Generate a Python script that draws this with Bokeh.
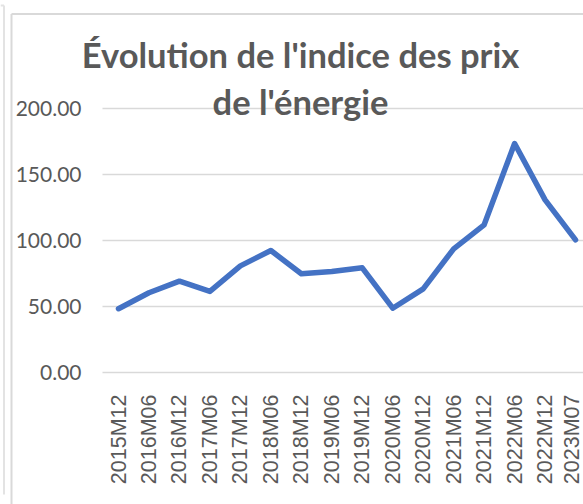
import math
from bokeh.plotting import figure
from bokeh.models import (Range1d, FixedTicker, PrintfTickFormatter, Label,
                          ColumnDataSource, Grid)
from bokeh.embed import file_html
from bokeh.resources import INLINE

# ---- data ----
categories = ["2015M12", "2016M06", "2016M12", "2017M06", "2017M12", "2018M06",
              "2018M12", "2019M06", "2019M12", "2020M06", "2020M12", "2021M06",
              "2021M12", "2022M06", "2022M12", "2023M07"]
values = [48.3, 60.4, 69.2, 61.4, 80.8, 92.4, 74.8, 76.5, 79.3, 48.7, 63.4,
          93.7, 111.9, 173.5, 130.8, 100.5]
y_ticks = [0, 50, 100, 150, 200]
title_lines = ["Évolution de l'indice des prix", "de l'énergie"]

FONT = "Lato"
XFONT = "Liberation Sans"
GREY = "#595959"
GRID = "#d9d9d9"
BLUE = "#4472C4"

W, H = 583, 504
# layout of the original chart (pixels): first category centre, category
# step, baseline (0) position and pixels per unit
X0, DX, Y0, DY = 118.0, 30.47, 372.0, 1.32


def px_x(px):
    return (px - X0) / DX


def px_y(py):
    return (Y0 - py) / DY


idx = list(range(len(categories)))
src = ColumnDataSource(dict(x=idx, y=values))

# frame covers the whole canvas; axes use negative standoffs so their labels
# sit inside it, as in the original (title overlaps the plot area)
p = figure(width=W, height=H, output_backend="svg", toolbar_location=None,
           x_range=Range1d(px_x(0), px_x(W)), y_range=Range1d(px_y(H), px_y(0)),
           min_border_left=0, min_border_right=0, min_border_top=0,
           min_border_bottom=0)
p.outline_line_color = None
p.background_fill_color = "white"
p.border_fill_color = "white"

# chart borders
p.segment(x0=[px_x(3.5), px_x(0)], y0=[px_y(5), px_y(5)],
          x1=[px_x(3.5), px_x(3.5)], y1=[px_y(494), px_y(5)],
          line_color="#e3e3e3", line_width=2)
p.segment(x0=[px_x(11), px_x(11)], y0=[px_y(13.5), px_y(13.5)],
          x1=[px_x(11), px_x(W + 20)], y1=[px_y(H + 20), px_y(13.5)],
          line_color=GRID, line_width=2)

# gridlines restricted to the plot area
p.xgrid.grid_line_color = None
p.ygrid.ticker = FixedTicker(ticks=y_ticks)
p.ygrid.grid_line_color = GRID
p.ygrid.grid_line_width = 1.5
if "cross_bounds" in Grid.properties():
    p.ygrid.cross_bounds = (-0.525, 16)
    p.ygrid.bounds = (0, 200)
else:
    p.ygrid.grid_line_color = None
    p.segment(x0=-0.525, x1=16, y0=y_ticks, y1=y_ticks,
              line_color=GRID, line_width=1.5)

# data line
p.line("x", "y", source=src, line_color=BLUE, line_width=5.5,
       line_join="round", line_cap="round")

# y axis
p.yaxis.ticker = FixedTicker(ticks=y_ticks)
p.yaxis.formatter = PrintfTickFormatter(format="%.2f")
p.yaxis.axis_line_color = None
p.yaxis.major_tick_line_color = None
p.yaxis.minor_tick_line_color = None
p.yaxis.major_label_standoff = -87
p.yaxis.major_label_text_font = FONT
p.yaxis.major_label_text_font_size = "21px"
p.yaxis.major_label_text_color = GREY

# x axis
p.xaxis.ticker = FixedTicker(ticks=idx)
p.xaxis.major_label_overrides = {i: c for i, c in zip(idx, categories)}
p.xaxis.major_label_orientation = math.pi / 2
p.xaxis.axis_line_color = None
p.xaxis.major_tick_line_color = None
p.xaxis.minor_tick_line_color = None
p.xaxis.major_label_standoff = -116
p.xaxis.major_label_text_font = XFONT
p.xaxis.major_label_text_font_size = "21.5px"
p.xaxis.major_label_text_color = GREY

# title (two lines, overlapping the plot area like the original)
for txt, yy in zip(title_lines, [240.8, 205.2]):
    p.add_layout(Label(x=px_x(300), y=yy, text=txt, text_align="center",
                       text_baseline="alphabetic", text_font=FONT,
                       text_font_style="bold", text_font_size="34.5px",
                       text_color=GREY))

open("out.html", "w").write(file_html(p, INLINE))
